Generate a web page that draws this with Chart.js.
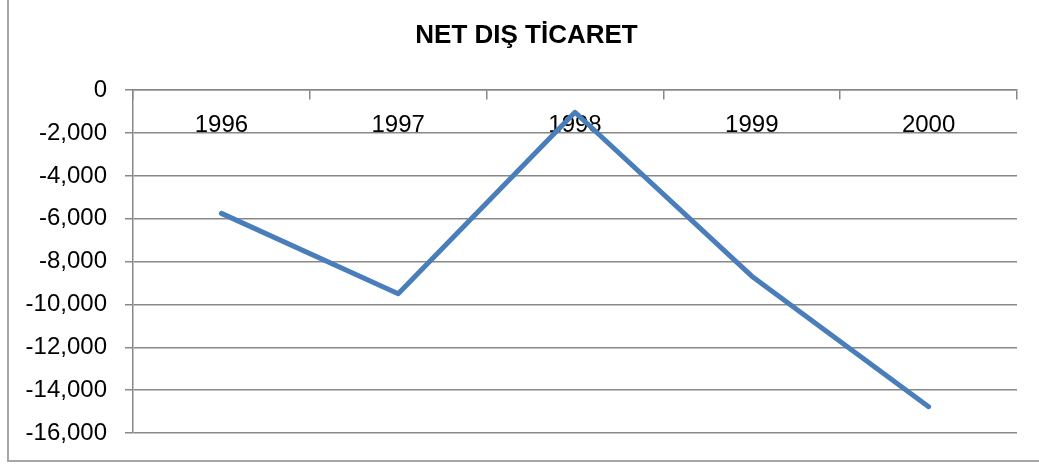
<!DOCTYPE html>
<html>
<head>
<meta charset="utf-8">
<script src="https://cdn.jsdelivr.net/npm/chart.js@4"></script>
<style>
	html, body { margin: 0; padding: 0; background: #fff; overflow: hidden; }
	#wrap { position: relative; width: 1039px; height: 466px; }
	#frame { position: absolute; left: 7px; top: -10px; width: 1100px; height: 470px; border-left: 2px solid #a6a6a6; border-bottom: 2px solid #a6a6a6; }
	#chart { position: absolute; left: 0; top: 0; }
</style>
</head>
<body>
<div id="wrap">
	<div id="frame"></div>
	<canvas id="chart" width="1039" height="466"></canvas>
</div>
<script>
// --- Dữ liệu ---
const years = ["1996", "1997", "1998", "1999", "2000"];
const netTrade = [-5750, -9500, -1030, -8680, -14770];
const yTicks = [0, -2000, -4000, -6000, -8000, -10000, -12000, -14000, -16000];

const gridColor = "#888888";
const fontFam = "'Liberation Sans', Arial, sans-serif";

// tiêu đề hơi lệch phải so với giữa khung
const titleShift = {
	id: "titleShift",
	afterLayout(chart) {
		const t = chart.titleBlock;
		if (t) { t.left += 13; t.right += 13; }
	}
};

new Chart(document.getElementById("chart").getContext("2d"), {
	type: "line",
	data: {
		labels: years,
		datasets: [{
			label: "NET DIŞ TİCARET",
			data: netTrade,
			borderColor: "#4a7ebb",
			borderWidth: 5,
			pointRadius: 0,
			borderCapStyle: "round",
			borderJoinStyle: "round",
			tension: 0,
			fill: false
		}]
	},
	plugins: [titleShift],
	options: {
		responsive: false,
		animation: false,
		events: [],
		layout: { padding: { left: 10, right: 22, top: 0, bottom: 33 } },
		plugins: {
			legend: { display: false },
			tooltip: { enabled: false },
			title: {
				display: true,
				text: "NET DIŞ TİCARET",
				color: "#000",
				font: { family: fontFam, size: 26, weight: "bold" },
				padding: { top: 20, bottom: 39 }
			}
		},
		scales: {
			x: {
				type: "category",
				position: { y: 0 },
				offset: true,
				grid: { offset: true, drawOnChartArea: false, drawTicks: true, tickLength: 9, color: gridColor, lineWidth: 1.5 },
				border: { display: true, color: gridColor, width: 1.5 },
				ticks: { color: "#000", font: { family: fontFam, size: 24 }, padding: 12, maxRotation: 0 }
			},
			y: {
				min: yTicks[yTicks.length - 1],
				max: yTicks[0],
				afterFit: (s) => { s.width = 123; },
				afterBuildTicks: (s) => { s.ticks = yTicks.map(v => ({ value: v })); },
				grid: { color: gridColor, lineWidth: 1.5, tickLength: 8 },
				border: { color: gridColor, width: 1.5 },
				ticks: {
					color: "#000",
					font: { family: fontFam, size: 24 },
					padding: 18,
					callback: (v) => Number(v).toLocaleString("en-US")
				}
			}
		}
	}
});
</script>
</body>
</html>
